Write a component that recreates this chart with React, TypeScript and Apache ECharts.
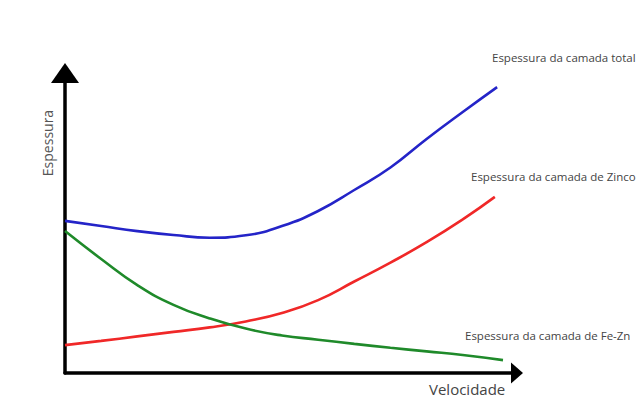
import React, { useEffect, useRef } from "react";
import * as echarts from "echarts";

// x: velocidade (0-100), y: espessura (0-100)
const totalX = [0, 8, 16, 24, 32, 40, 48, 56, 64, 72, 80, 88, 95.6];
const totalY = [50.7, 49, 47.3, 46, 45.1, 45.9, 49, 54, 61, 68.5, 78, 87, 95.3];

const zincoX = [0, 8, 16, 24, 32, 40, 48, 56, 64, 72, 80, 88, 95.1];
const zincoY = [9.3, 10.7, 12.2, 13.7, 15.2, 17.2, 20, 24.3, 30.5, 36.8, 43.6, 51.2, 58.7];

const feznX = [0, 8, 16, 24, 32, 40, 48, 56, 64, 72, 80, 88, 96.9];
const feznY = [47.3, 38, 29.3, 22.7, 18.2, 14.8, 12.5, 11.1, 9.7, 8.4, 7.2, 6.0, 4.3];

const seriesNames = [
  "Espessura da camada total",
  "Espessura da camada de Zinco",
  "Espessura da camada de Fe-Zn",
];
const xAxisName = "Velocidade";
const yAxisName = "Espessura";

const zip = (xs: number[], ys: number[]) => xs.map((x, i) => [x, ys[i]]);

export default function App() {
  const ref = useRef<HTMLDivElement>(null);
  useEffect(() => {
    if (!ref.current) return;
    const chart = echarts.init(ref.current, null, { renderer: "svg" });
    const font = "'Open Sans', 'Noto Sans', sans-serif";
    const mk = (i: number, xs: number[], ys: number[], c: string) => ({
      name: seriesNames[i],
      type: "line",
      smooth: 0.5,
      showSymbol: false,
      data: zip(xs, ys),
      lineStyle: { color: c, width: 2.6 },
      itemStyle: { color: c },
    });
    chart.setOption({
      animation: false,
      backgroundColor: "#ffffff",
      grid: { left: 65, right: 126, top: 73, bottom: 45 },
      xAxis: {
        type: "value",
        min: 0,
        max: 100,
        axisLine: {
          show: true,
          onZero: false,
          symbol: ["none", "triangle"],
          symbolSize: [21, 12],
          lineStyle: { color: "#000", width: 3.5 },
        },
        axisTick: { show: false },
        axisLabel: { show: false },
        splitLine: { show: false },
      },
      yAxis: {
        type: "value",
        min: 0,
        max: 100,
        axisLine: {
          show: true,
          onZero: false,
          symbol: ["none", "triangle"],
          symbolSize: [28, 20],
          lineStyle: { color: "#000", width: 3.5 },
        },
        axisTick: { show: false },
        axisLabel: { show: false },
        splitLine: { show: false },
      },
      series: [
        mk(0, totalX, totalY, "#2424c8"),
        mk(1, zincoX, zincoY, "#f02828"),
        mk(2, feznX, feznY, "#1f8a2a"),
      ],
      graphic: [
        {
          type: "text",
          left: 492,
          top: 51,
          style: { text: seriesNames[0], font: `11.5px ${font}`, fill: "#444" },
        },
        {
          type: "text",
          left: 471,
          top: 170,
          style: { text: seriesNames[1], font: `11.5px ${font}`, fill: "#444" },
        },
        {
          type: "text",
          left: 465,
          top: 329,
          style: { text: seriesNames[2], font: `11.5px ${font}`, fill: "#444" },
        },
        {
          type: "text",
          left: 429,
          top: 381,
          style: { text: xAxisName, font: `15px ${font}`, fill: "#444" },
        },
        {
          type: "text",
          x: 47,
          y: 143,
          rotation: Math.PI / 2,
          style: {
            text: yAxisName,
            font: `14px ${font}`,
            fill: "#555",
            align: "center",
            verticalAlign: "middle",
          },
        },
      ],
    });
    return () => chart.dispose();
  }, []);
  return (
    <div
      ref={ref}
      style={{ position: "fixed", left: 0, top: 0, width: 643, height: 418 }}
    />
  );
}
